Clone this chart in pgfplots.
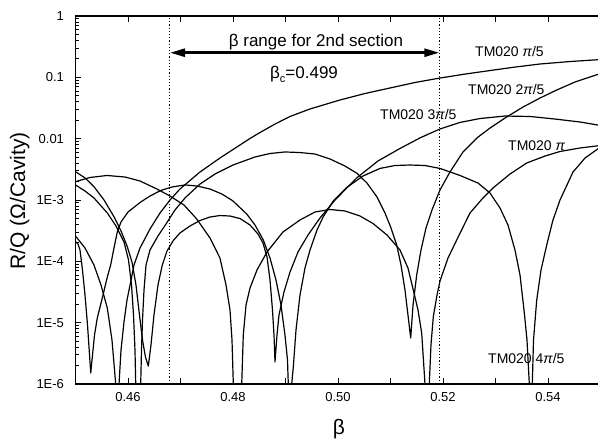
\documentclass[border=0pt]{standalone}
\usepackage{fontspec}
\setmainfont{Liberation Sans}
\usepackage{pgfplots}
\pgfplotsset{compat=1.18}
\usetikzlibrary{arrows.meta}
\begin{document}
\begin{tikzpicture}[x=1pt,y=1pt]
\begin{axis}[
  at={(75.5pt,55pt)}, anchor=south west, scale only axis,
  width=525pt, height=368pt,
  xmin=0.45, xmax=0.55, ymode=log, ymin=1e-6, ymax=1,
  axis line style={line width=1.1pt},
  tick style={line width=0.8pt, black},
  major tick length=6pt, minor tick length=3.5pt,
  tick align=inside,
  xtick={0.46,0.47,0.48,0.49,0.50,0.51,0.52,0.53,0.54},
  xticklabels={0.46,,0.48,,0.50,,0.52,,0.54},
  ytick={1e-6,1e-5,1e-4,1e-3,1e-2,1e-1,1},
  yticklabels={1E-6,1E-5,1E-4,1E-3,0.01,0.1,1},
  minor ytick={2e-6,3e-6,4e-6,5e-6,6e-6,7e-6,8e-6,9e-6,2e-5,3e-5,4e-5,5e-5,6e-5,7e-5,8e-5,9e-5,2e-4,3e-4,4e-4,5e-4,6e-4,7e-4,8e-4,9e-4,2e-3,3e-3,4e-3,5e-3,6e-3,7e-3,8e-3,9e-3,2e-2,3e-2,4e-2,5e-2,6e-2,7e-2,8e-2,9e-2,0.2,0.3,0.4,0.5,0.6,0.7,0.8,0.9},
  ytick pos=left, xtick pos=both,
  tick label style={font=\fontsize{13}{15}\selectfont},
  yticklabel style={xshift=-8pt},
  xticklabel style={yshift=-5pt},
  curve/.style={black, solid, line width=1.2pt, line join=round, mark=none},
]
% dotted section limits
\addplot[black, line width=1.1pt, dash pattern=on 1.3pt off 1.9pt, mark=none] coordinates {(0.4679,1e-6) (0.4679,1)};
\addplot[black, line width=1.1pt, dash pattern=on 1.3pt off 1.9pt, mark=none] coordinates {(0.5194,1e-6) (0.5194,1)};
% arrow
\addplot[black, mark=none, line width=2.6pt, {Triangle[length=15pt,width=8pt]}-{Triangle[length=15pt,width=8pt]}] coordinates {(0.4680,0.252) (0.5193,0.252)};
% curve: E5 -> pi/5
\addplot[curve] coordinates {(0.45,2.59e-4) (0.45181,1.65e-4) (0.45352,8.71e-5) (0.45486,4.11e-5) (0.45606,1.73e-5) (0.45695,5.21e-6) (0.45766,1e-6) (0.45796,1e-7) (0.45829,1e-6) (0.45867,3.58e-6) (0.45924,1.03e-5) (0.45981,2.34e-5) (0.46051,4.60e-5) (0.46114,8.71e-5) (0.46229,1.65e-4) (0.46419,3.37e-4) (0.46610,6.14e-4) (0.46800,1.0e-3) (0.46990,1.51e-3) (0.47371,2.86e-3) (0.47752,4.84e-3) (0.48133,7.89e-3) (0.48324,1.007e-2) (0.48514,1.26e-2) (0.48800,1.73e-2) (0.49086,2.30e-2) (0.49467,3.05e-2) (0.50038,4.27e-2) (0.50514,5.45e-2) (0.50990,6.70e-2) (0.51467,8.24e-2) (0.51943,9.75e-2) (0.52419,0.113) (0.52895,0.129) (0.53371,0.147) (0.53848,0.165) (0.54419,0.181) (0.55,0.195)};
% curve: arc A -> pi
\addplot[curve] coordinates {(0.45,1.99e-3) (0.45276,2.33e-3) (0.45600,2.51e-3) (0.45943,2.37e-3) (0.46229,2.04e-3) (0.46552,1.51e-3) (0.46800,1.16e-3) (0.47067,8.28e-4) (0.47309,4.90e-4) (0.47562,2.40e-4) (0.47752,1.13e-4) (0.47867,4.11e-5) (0.47943,1.61e-5) (0.47981,5.21e-6) (0.48006,1e-6) (0.48086,1e-7) (0.48166,1e-6) (0.48196,6.29e-6) (0.48248,1.94e-5) (0.48324,3.67e-5) (0.48457,7.22e-5) (0.48648,1.42e-4) (0.48952,3.01e-4) (0.49276,4.72e-4) (0.49562,6.37e-4) (0.49848,7.00e-4) (0.50133,6.62e-4) (0.50419,5.48e-4) (0.50667,4.14e-4) (0.50933,2.69e-4) (0.51181,1.53e-4) (0.51333,7.78e-5) (0.51434,3.41e-5) (0.51524,1.61e-5) (0.51594,6.79e-6) (0.51657,1e-6) (0.51699,1e-7) (0.51739,1e-6) (0.51771,4.33e-6) (0.51815,1.24e-5) (0.51886,2.82e-5) (0.51943,4.78e-5) (0.52095,1.13e-4) (0.52261,2.23e-4) (0.52514,6.14e-4) (0.52762,1.08e-3) (0.52952,1.57e-3) (0.53276,2.65e-3) (0.53594,4.01e-3) (0.53943,5.21e-3) (0.54229,6.18e-3) (0.54610,7.05e-3) (0.55,7.74e-3)};
% curve: E4 -> 4pi/5
\addplot[curve] coordinates {(0.45,2.09e-4) (0.45048,1.92e-4) (0.45086,1.53e-4) (0.45133,7.22e-5) (0.45181,2.82e-5) (0.45229,9.16e-6) (0.45267,2.97e-6) (0.45290,1.51e-6) (0.45324,2.97e-6) (0.45362,6.29e-6) (0.45415,1.19e-5) (0.45510,2.52e-5) (0.45606,5.56e-5) (0.45670,8.71e-5) (0.45733,1.65e-4) (0.45796,3.01e-4) (0.45867,4.38e-4) (0.46000,6.37e-4) (0.46242,9.27e-4) (0.46419,1.16e-3) (0.46623,1.43e-3) (0.46838,1.63e-3) (0.47086,1.76e-3) (0.47314,1.69e-3) (0.47562,1.51e-3) (0.47790,1.25e-3) (0.48000,9.64e-4) (0.48261,5.91e-4) (0.48419,3.91e-4) (0.48577,2.23e-4) (0.48705,1.13e-4) (0.48819,4.97e-5) (0.48914,1.94e-5) (0.48990,6.29e-6) (0.49038,2.46e-6) (0.49053,1e-6) (0.49086,1e-7) (0.49118,1e-6) (0.49149,1.91e-6) (0.49200,7.59e-6) (0.49276,2.82e-5) (0.49371,7.78e-5) (0.49467,1.53e-4) (0.49600,3.24e-4) (0.49720,5.35e-4) (0.49910,9.64e-4) (0.50166,1.60e-3) (0.50476,2.46e-3) (0.50800,3.27e-3) (0.51086,3.65e-3) (0.51371,3.72e-3) (0.51657,3.65e-3) (0.51943,3.27e-3) (0.52324,2.51e-3) (0.52667,1.89e-3) (0.52895,1.30e-3) (0.53086,7.41e-4) (0.53238,3.91e-4) (0.53371,1.53e-4) (0.53467,5.98e-5) (0.53543,1.61e-5) (0.53600,5.21e-6) (0.53644,1e-6) (0.53672,1e-7) (0.53701,1e-6) (0.53724,5.21e-6) (0.53785,2.34e-5) (0.53867,7.22e-5) (0.53976,1.85e-4) (0.54095,4.72e-4) (0.54229,1e-3) (0.54476,2.86e-3) (0.54705,4.84e-3) (0.55,7.31e-3)};
% curve: E3 -> 2pi/5
\addplot[curve] coordinates {(0.45,1.76e-3) (0.45181,1.40e-3) (0.45352,1.08e-3) (0.45606,6.14e-4) (0.45771,3.77e-4) (0.45924,2.07e-4) (0.46010,1.05e-4) (0.46067,4.11e-5) (0.46105,1.33e-5) (0.46133,3.58e-6) (0.46147,1e-6) (0.46194,1e-7) (0.46242,1e-6) (0.46257,3.58e-6) (0.46276,1.10e-5) (0.46305,3.41e-5) (0.46343,8.71e-5) (0.46419,1.53e-4) (0.46571,2.59e-4) (0.46724,4.06e-4) (0.46895,6.87e-4) (0.47086,1.08e-3) (0.47371,1.82e-3) (0.47657,2.65e-3) (0.48000,3.72e-3) (0.48419,5.03e-3) (0.48705,5.73e-3) (0.48990,6.07e-3) (0.49276,5.94e-3) (0.49562,5.62e-3) (0.49848,4.66e-3) (0.50133,3.58e-3) (0.50362,2.72e-3) (0.50552,1.89e-3) (0.50743,1.12e-3) (0.50895,6.14e-4) (0.51010,3.49e-4) (0.51118,1.85e-4) (0.51200,8.71e-5) (0.51276,3.41e-5) (0.51333,1.33e-5) (0.51385,5.62e-6) (0.51429,1.94e-5) (0.51499,5.98e-5) (0.51581,1.53e-4) (0.51676,3.49e-4) (0.51790,6.87e-4) (0.51943,1.46e-3) (0.52133,2.86e-3) (0.52381,6.07e-3) (0.52648,1.03e-2) (0.52895,1.49e-2) (0.53181,2.17e-2) (0.53524,3.28e-2) (0.53848,4.60e-2) (0.54166,6.21e-2) (0.54514,8.39e-2) (0.55,0.1155)};
% curve: E1 -> 3pi/5
\addplot[curve] coordinates {(0.45,2.89e-3) (0.45181,2.29e-3) (0.45352,1.65e-3) (0.45543,1e-3) (0.45733,5.35e-4) (0.45867,3.13e-4) (0.45987,1.73e-4) (0.46076,9.75e-5) (0.46152,4.11e-5) (0.46219,1.33e-5) (0.46276,5.21e-6) (0.46333,2.75e-6) (0.46387,1.96e-6) (0.46438,4.33e-6) (0.46495,1.33e-5) (0.46571,4.11e-5) (0.46653,8.71e-5) (0.46743,1.47e-4) (0.46857,2.15e-4) (0.46990,2.90e-4) (0.47181,3.77e-4) (0.47371,4.63e-4) (0.47562,5.28e-4) (0.47752,5.58e-4) (0.47943,5.48e-4) (0.48133,4.99e-4) (0.48324,3.91e-4) (0.48476,2.79e-4) (0.48571,1.99e-4) (0.48648,1.18e-4) (0.48705,4.97e-5) (0.48752,1.61e-5) (0.48781,6.29e-6) (0.48800,2.29e-6) (0.48838,6.29e-6) (0.48876,1.33e-5) (0.48971,3.16e-5) (0.49086,6.70e-5) (0.49238,1.42e-4) (0.49429,2.69e-4) (0.49657,5.09e-4) (0.49943,1e-3) (0.50356,2.29e-3) (0.50762,4.33e-3) (0.51181,6.92e-3) (0.51562,1.03e-2) (0.51943,1.44e-2) (0.52324,1.84e-2) (0.52705,2.13e-2) (0.53181,2.34e-2) (0.53657,2.30e-2) (0.54133,2.09e-2) (0.54610,1.87e-2) (0.55,1.64e-2)};
\end{axis}
% annotations
\node[anchor=base, font=\fontsize{17}{20}\selectfont, inner sep=0pt] at (316,392.5) {β range for 2nd section};
\node[anchor=base west, font=\fontsize{17}{20}\selectfont, inner sep=0pt] at (270,360.7) {β\raisebox{-0.22em}{\fontsize{11}{11}\selectfont c}=0.499};
\begin{scope}[every node/.style={anchor=base west, inner sep=0pt, font=\fontsize{14}{16}\selectfont}]
\node at (475,382.3) {TM020 {\itshape π}/5};
\node at (468,344.7) {TM020 2{\itshape π}/5};
\node at (380,319) {TM020 3{\itshape π}/5};
\node at (508,288.3) {TM020 {\itshape π}};
\node at (488,75.7) {TM020 4{\itshape π}/5};
\end{scope}
\node[anchor=base, rotate=90, inner sep=0pt, font=\fontsize{21}{24}\selectfont] at (25,238) {R/Q (Ω/Cavity)};
\node[anchor=base, inner sep=0pt, font=\fontsize{21}{24}\selectfont] at (339,4.6) {β};
\pgfresetboundingbox
\path (0,0) rectangle (598,439);
\end{tikzpicture}
\end{document}
